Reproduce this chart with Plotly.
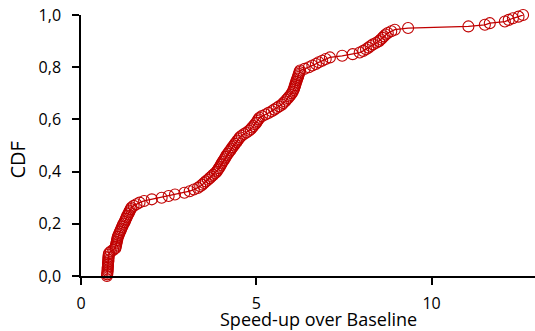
import plotly.graph_objects as go

# Sorted speed-up samples
speedups = [
    0.74, 0.75, 0.75, 0.76, 0.76, 0.76, 0.77, 0.77, 0.77, 0.78, 0.78, 0.78, 0.79, 0.79, 0.80,
    0.85, 0.92, 0.98,
    0.99, 1.00, 1.01, 1.02, 1.03, 1.04, 1.05,
    1.07, 1.09, 1.11, 1.13, 1.15, 1.17, 1.19, 1.21, 1.24, 1.26, 1.28, 1.30, 1.32, 1.35,
    1.37, 1.39, 1.42, 1.44,
    1.50, 1.58, 1.67,
    1.80, 2.02, 2.30,
    2.50, 2.68, 2.95,
    3.10, 3.22, 3.33, 3.40, 3.46,
    3.51, 3.56, 3.62, 3.67, 3.72, 3.77, 3.82, 3.87,
    3.90, 3.93, 3.96, 3.99, 4.01, 4.04, 4.07, 4.10, 4.13, 4.15,
    4.19, 4.22, 4.26, 4.29, 4.32, 4.36, 4.39, 4.43, 4.46, 4.50, 4.53,
    4.58, 4.65, 4.72, 4.79,
    4.84, 4.88, 4.92, 4.96, 5.00, 5.03, 5.06, 5.09,
    5.16, 5.26, 5.35, 5.44,
    5.51, 5.58, 5.65, 5.73,
    5.77, 5.82, 5.86, 5.90, 5.94, 5.98, 6.01, 6.04,
    6.06, 6.08, 6.09, 6.11, 6.12, 6.14, 6.15, 6.17, 6.19, 6.20, 6.22, 6.23, 6.25,
    6.38, 6.50, 6.60,
    6.70, 6.78,
    6.88, 6.98,
    7.10, 7.45, 7.75,
    7.95, 8.05, 8.13, 8.20,
    8.26, 8.33, 8.42,
    8.50, 8.55, 8.60, 8.64, 8.69,
    8.75, 8.85, 8.95,
    9.33, 11.05, 11.52, 11.66, 12.09, 12.20, 12.32, 12.48, 12.61,
]
n = len(speedups)
cdf = [i / (n - 1) for i in range(n)]

x_ticks = [0, 5, 10]
y_ticks = [0.0, 0.2, 0.4, 0.6, 0.8, 1.0]
x_title = "Speed-up over Baseline"
y_title = "CDF"

red = "#C00000"
font_family = "'Open Sans', Lato, sans-serif"

fig = go.Figure()
fig.add_trace(go.Scatter(
    x=speedups, y=cdf, mode="lines+markers",
    line=dict(color=red, width=1.3),
    marker=dict(symbol="circle-open", size=11, color=red, line=dict(width=1.1, color=red)),
    cliponaxis=False, showlegend=False, hoverinfo="skip",
))

fig.update_layout(
    width=535, height=331,
    margin=dict(l=81, r=0, t=15, b=55),
    paper_bgcolor="white", plot_bgcolor="white",
    separators=",.",
    font=dict(family=font_family, color="#000", size=16),
    xaxis=dict(
        range=[0, 12.95], tickvals=x_ticks, showgrid=False, zeroline=False,
        showline=True, linecolor="#000", linewidth=1.5,
        ticks="outside", ticklen=7, tickwidth=1.5, tickcolor="#000",
        tickfont=dict(size=16, family=font_family, color="#000"),
        ticklabelstandoff=5, ticklabeloverflow="allow",
    ),
    yaxis=dict(
        range=[0, 1], tickvals=y_ticks, tickformat=".1f", showgrid=False, zeroline=False,
        showline=True, linecolor="#000", linewidth=1.5,
        ticks="outside", ticklen=7, tickwidth=1.5, tickcolor="#000",
        tickfont=dict(size=16, family=font_family, color="#000"),
        ticklabelstandoff=8, ticklabeloverflow="allow",
    ),
    shapes=[
        dict(type="line", xref="paper", yref="paper", x0=-0.0155, x1=0, y0=0, y1=0,
             line=dict(color="#000", width=1.5)),
    ],
    annotations=[
        dict(text=x_title, xref="paper", yref="paper", x=0.524, y=-0.166,
             xanchor="center", yanchor="middle", showarrow=False,
             font=dict(size=18, family=font_family, color="#000")),
        dict(text=y_title, xref="paper", yref="paper", x=-0.14, y=0.444,
             xanchor="center", yanchor="middle", showarrow=False, textangle=-90,
             font=dict(size=20, family=font_family, color="#000")),
    ],
)

fig.write_html("out.html", config={"displayModeBar": False},
               post_script="document.body.style.margin='0';")
